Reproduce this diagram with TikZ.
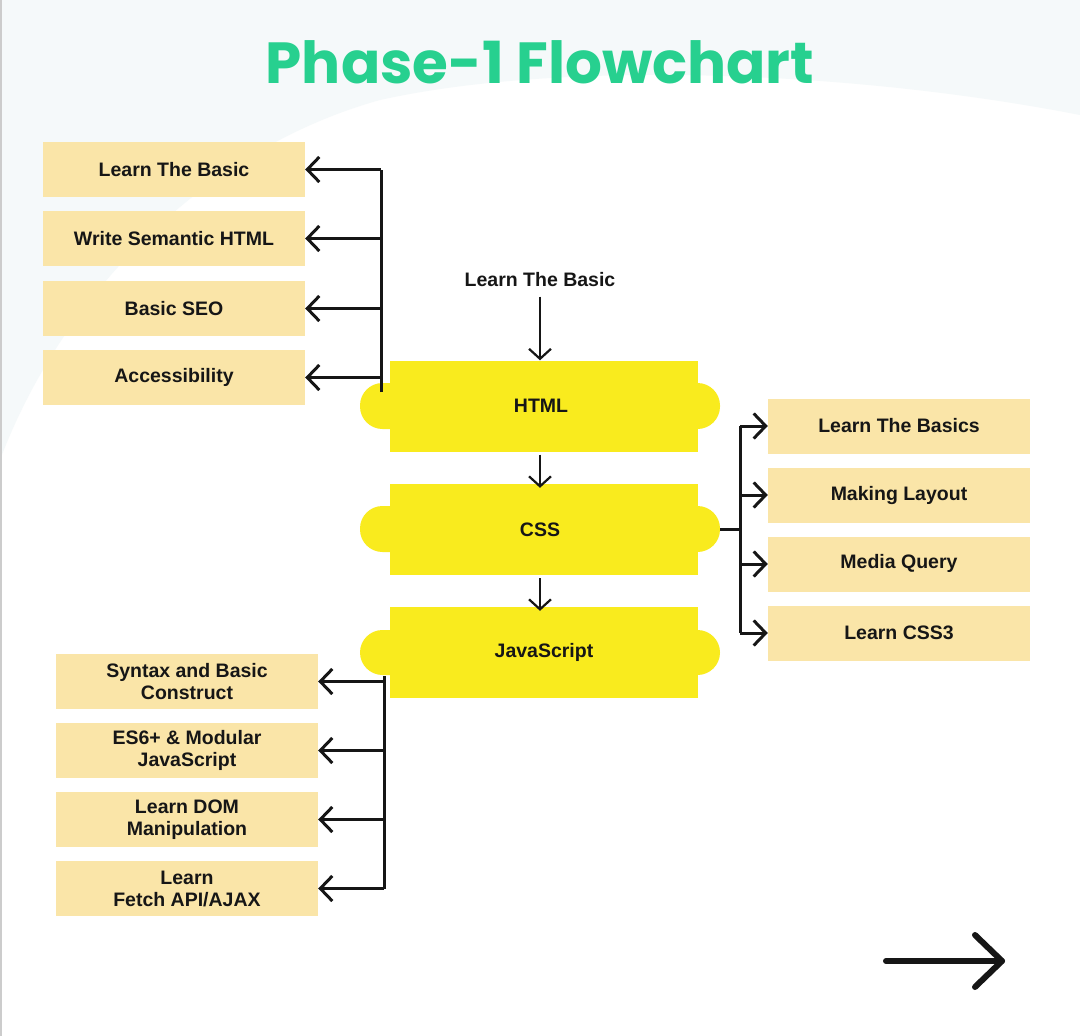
\documentclass[tikz,border=0pt]{standalone}
\usepackage{fontspec}
\setmainfont{Liberation Sans}
\newfontfamily\titlefont{Poppins}
\usetikzlibrary{arrows.meta}
\definecolor{ink}{HTML}{161616}
\definecolor{boxfill}{HTML}{FAE5A8}
\definecolor{blockyel}{HTML}{F9EB1E}
\definecolor{titlegreen}{HTML}{27D08F}
\definecolor{bgpale}{HTML}{F5F9FA}
\begin{document}
\begin{tikzpicture}[x=1pt,y=-1pt,
  topic/.style={fill=boxfill, minimum width=262pt, minimum height=55pt, inner sep=0pt, align=center, text=ink, font=\fontsize{19.5}{22}\selectfont\bfseries},
  core/.style={fill=blockyel, minimum width=308pt, minimum height=91pt, inner sep=0pt, text=ink, font=\fontsize{19.5}{22}\selectfont\bfseries},
  knob/.style={fill=blockyel, rounded corners=22.5pt},
  trunk/.style={draw=ink, line width=3pt},
  link/.style={draw=ink, line width=3pt, -{Straight Barb[length=12pt,width=25pt]}},
  flow/.style={draw=ink, line width=2.2pt, -{Straight Barb[length=10pt,width=22pt]}}]
\useasboundingbox (0,0) rectangle (1080,1036);
% background
\fill[white] (0,0) rectangle (1080,1036);
\fill[bgpale] (0,0) -- (1080,0) -- (1080,115) .. controls (850,70) and (560,60) .. (380,100) .. controls (200,150) and (60,300) .. (0,460) -- cycle;
\draw[gray!40, line width=2pt] (1,0) -- (1,1036);
% title
\node[font=\titlefont\bfseries\fontsize{58}{66}\selectfont, text=titlegreen] (title) at (540,62) {Phase-1 Flowchart};
% core block knobs
\fill[knob] (360,383) rectangle (720,429);
\fill[knob] (360,506) rectangle (720,552);
\fill[knob] (360,630) rectangle (720,675);
% core blocks
\node[core] (html) at (544,406) {\hspace*{-6pt}HTML};
\node[core] (css) at (544,529.5) {\hspace*{-8pt}CSS};
\node[core] (js) at (544,652.5) {JavaScript};
% start label
\node[text=ink, font=\fontsize{19.5}{22}\selectfont\bfseries] (start) at (540,280) {Learn The Basic};
% HTML topics
\node[topic] (h1) at (174,169.5) {Learn The Basic};
\node[topic] (h2) at (174,238.5) {Write Semantic HTML};
\node[topic] (h3) at (174,308.5) {Basic SEO};
\node[topic] (h4) at (174,377.5) {Accessibility};
% CSS topics
\node[topic] (c1) at (899,426) {Learn The Basics};
\node[topic] (c2) at (899,495) {Making Layout};
\node[topic] (c3) at (899,564) {\raisebox{6pt}{Media Query}};
\node[topic] (c4) at (899,633) {Learn CSS3};
% JS topics
\node[topic] (j1) at (187,681.5) {Syntax and Basic\\Construct};
\node[topic] (j2) at (187,750.5) {ES6+ \& Modular\\JavaScript};
\node[topic] (j3) at (187,819.5) {Learn DOM\\Manipulation};
\node[topic] (j4) at (187,888.5) {Learn\\Fetch API/AJAX};
% main flow
\draw[flow] (start.south) ++(0,6) -- (start.south |- html.north);
\draw[flow] (html.south -| start.south) ++(0,3) -- ([yshift=-4pt]css.north -| start.south);
\draw[flow] (css.south -| start.south) ++(0,3) -- ([yshift=-4pt]js.north -| start.south);
% HTML branch
\coordinate (lt) at (381,0);
\draw[trunk] (381,392) -- (h1.east -| lt);
\foreach \n in {h1,h2,h3,h4} \draw[link] (\n.east -| lt) -- (\n.east);
% CSS branch
\coordinate (ck) at (720,529.5);
\coordinate (rt) at (740,0);
\draw[trunk] (ck) -- (ck -| rt);
\draw[trunk] (c1.west -| rt) -- (c4.west -| rt);
\foreach \n in {c1,c2,c3,c4} \draw[link] (\n.west -| rt) -- (\n.west);
% JS branch
\coordinate (bt) at (384,0);
\draw[trunk] (384,676) -- (j4.east -| bt);
\foreach \n in {j1,j2,j3,j4} \draw[link] (\n.east -| bt) -- (\n.east);
% next arrow
\coordinate (na) at (886,961);
\coordinate (nb) at (1002,961);
\draw[ink, line width=6pt, line cap=round, line join=round] (na) -- (nb);
\draw[ink, line width=6pt, line cap=round, line join=round] (975,935) -- (nb) -- (975,987);
\end{tikzpicture}
\end{document}
